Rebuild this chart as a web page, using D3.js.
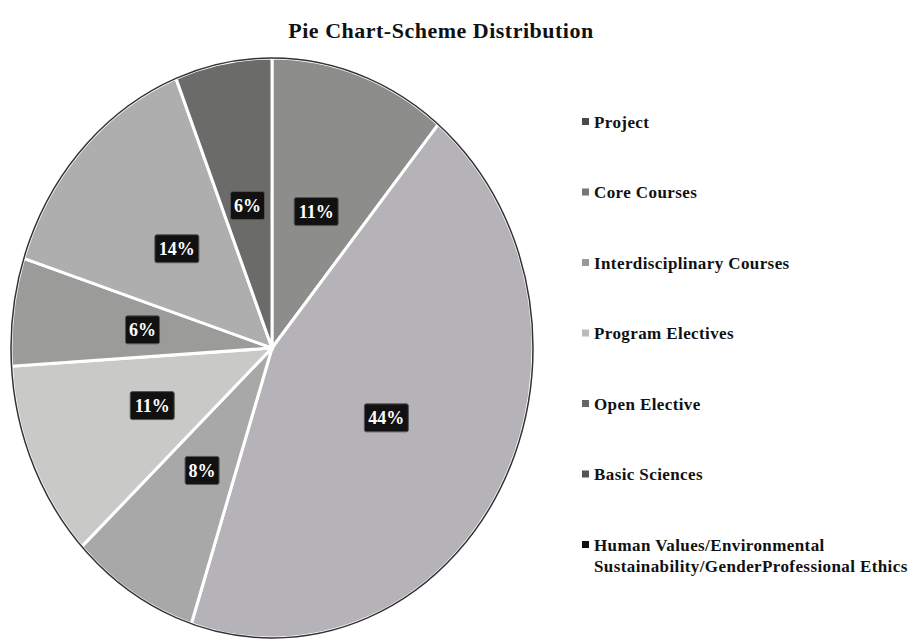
<!DOCTYPE html>
<meta charset="utf-8">
<script src="https://d3js.org/d3.v7.min.js"></script>
<style>
body { margin: 0; background: #fff; }
text { font-family: "Liberation Serif", "DejaVu Serif", serif; font-weight: bold; }
path.slice { stroke: #fff; stroke-width: 3px; vector-effect: non-scaling-stroke; }
.legend text { font-size: 17px; letter-spacing: 0.4px; fill: #111; }
</style>
<body>
<script>

// chart data
var categories = ["Project", "Core Courses", "Interdisciplinary Courses", "Program Electives",
                  "Open Elective", "Basic Sciences",
                  "Human Values/Environmental|Sustainability/GenderProfessional Ethics"];
var shares = [11, 44, 8, 11, 6, 14, 6];
var greys = ["#8d8e8c", "#b5b3b8", "#a9a8a9", "#c9c9c8", "#9b9b9a", "#aeaeae", "#6b6b6a"];
var legendGreys = ["#4a4a4a", "#777", "#999", "#bbb", "#666", "#555", "#111"];

var width = 915,
    height = 641;

// the photographed pie is a bit taller than wide
var cx = 272, cy = 348, rx = 261, ry = 290;

var svg = d3.select("body").append("svg")
    .attr("width", width)
    .attr("height", height);

svg.append("text")
    .attr("x", 441)
    .attr("y", 38)
    .attr("text-anchor", "middle")
    .style("font-size", "22px")
    .style("letter-spacing", "0.5px")
    .attr("fill", "#111")
    .text("Pie Chart-Scheme Distribution");

var data = categories.map(function(c, i) {
  return {name: c, value: shares[i], color: greys[i], legend: legendGreys[i]};
});

var pie = d3.pie()
    .sort(null)
    .value(function(d) { return d.value; });

var arcs = pie(data);

var arc = d3.arc()
    .innerRadius(0)
    .outerRadius(1);

var g = svg.append("g")
    .attr("transform", "translate(" + cx + "," + cy + ") scale(" + rx + "," + ry + ")");

g.selectAll("path.slice")
    .data(arcs)
    .enter().append("path")
    .attr("class", "slice")
    .attr("d", arc)
    .attr("fill", function(d) { return d.data.color; });

// dark outer rim
g.append("ellipse")
    .attr("rx", 1)
    .attr("ry", 1)
    .attr("fill", "none")
    .attr("stroke", "#333")
    .attr("stroke-width", 1.5)
    .style("vector-effect", "non-scaling-stroke");

// percentage labels in black boxes
var labels = svg.append("g")
    .attr("transform", "translate(" + cx + "," + cy + ")")
    .selectAll("g")
    .data(arcs)
    .enter().append("g")
    .attr("transform", function(d) {
      var c = arc.centroid(d);
      return "translate(" + (c[0] * rx) + "," + (c[1] * ry) + ")";
    });

labels.append("rect")
    .attr("x", function(d) { return d.data.value >= 10 ? -22 : -17; })
    .attr("y", -14)
    .attr("width", function(d) { return d.data.value >= 10 ? 44 : 34; })
    .attr("height", 28)
    .attr("rx", 2)
    .attr("fill", "#111")
    .attr("stroke", "#555")
    .attr("stroke-width", 1);

labels.append("text")
    .attr("text-anchor", "middle")
    .attr("dy", "0.35em")
    .style("font-size", "18px")
    .attr("fill", "#fff")
    .text(function(d) { return d.data.value + "%"; });

// legend
var legend = svg.append("g")
    .attr("class", "legend")
    .selectAll("g")
    .data(data)
    .enter().append("g")
    .attr("transform", function(d, i) { return "translate(582," + (122 + i * 70.5) + ")"; });

legend.append("rect")
    .attr("x", 0)
    .attr("y", -4)
    .attr("width", 7)
    .attr("height", 7)
    .attr("fill", function(d) { return d.legend; });

legend.append("text")
    .attr("x", 12)
    .attr("y", 0)
    .each(function(d) {
      var lines = d.name.split("|");
      var t = d3.select(this);
      lines.forEach(function(l, k) {
        t.append("tspan")
          .attr("x", 12)
          .attr("dy", k == 0 ? "0.35em" : "1.25em")
          .text(l);
      });
    });

</script>
</body>
